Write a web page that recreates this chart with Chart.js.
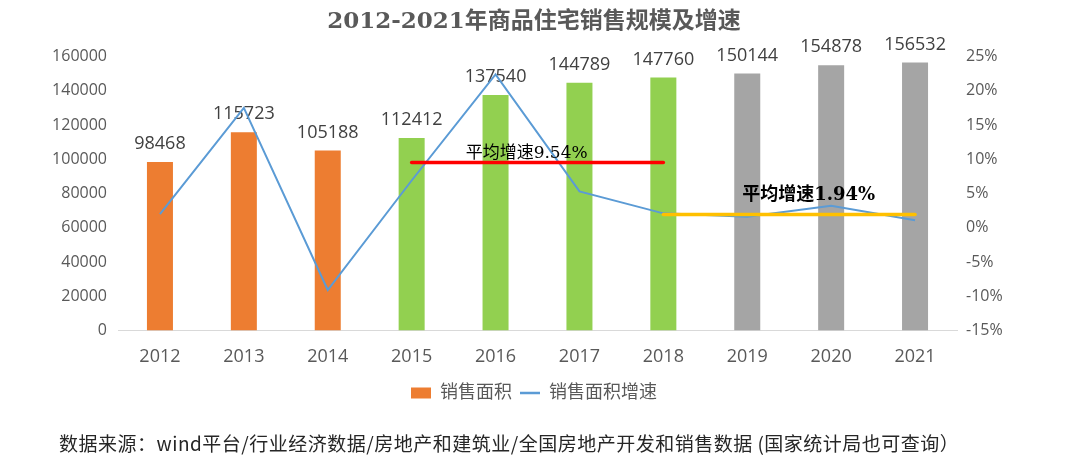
<!DOCTYPE html>
<html>
<head>
<meta charset="utf-8">
<script src="https://cdn.jsdelivr.net/npm/chart.js@4.4.1/dist/chart.umd.min.js"></script>
<style>
    html, body { margin: 0; padding: 0; background: #fff; }
    #wrap { position: relative; width: 1080px; height: 474px; }
    #note {
        position: absolute; left: 59px; top: 430px;
        font: 19px 'Noto Sans CJK SC', sans-serif; color: #262626;
        white-space: nowrap; line-height: 26px; letter-spacing: 0.5px;
    }
</style>
</head>
<body>
<div id="wrap">
    <canvas id="chart-sales"></canvas>
    <div id="note">数据来源：wind平台/行业经济数据/房地产和建筑业/全国房地产开发和销售数据 (国家统计局也可查询）</div>
</div>
<script>
(function () {
    'use strict';

    /* --- Data --- */
    var years     = ['2012', '2013', '2014', '2015', '2016', '2017', '2018', '2019', '2020', '2021'];
    var salesArea = [98468, 115723, 105188, 112412, 137540, 144789, 147760, 150144, 154878, 156532];
    var growth    = [2.0, 17.5, -9.1, 6.9, 22.4, 5.3, 2.1, 1.6, 3.2, 1.1];   // %
    var avgEarly  = [null, null, null, 9.54, 9.54, 9.54, 9.54, null, null, null];
    var avgLate   = [null, null, null, null, null, null, 1.94, 1.94, 1.94, 1.94];
    var avgEarlyText = '平均增速9.54%';
    var avgLateText  = '平均增速1.94%';

    var orange = '#ED7D31';
    var green  = '#92D050';
    var grey   = '#A5A5A5';
    var blue   = '#5B9BD5';
    var txt    = '#595959';

    var barColors = years.map(function (y) {
        var n = +y;
        if (n <= 2014) return orange;
        if (n <= 2018) return green;
        return grey;
    });

    var sansFont  = "'Open Sans', 'Noto Sans CJK SC', sans-serif";
    var serifFont = "'DejaVu Serif', 'Noto Sans CJK SC', serif";

    Chart.defaults.font.family = sansFont;
    Chart.defaults.color = txt;

    /* bar value labels, drawn right after the bars so the line sits on top */
    var barLabels = {
        id: 'barLabels',
        afterDatasetDraw: function (chart, args) {
            if (args.index !== 0) return;
            var ctx = chart.ctx;
            ctx.save();
            ctx.font = '18px ' + sansFont;
            ctx.fillStyle = '#404040';
            ctx.textAlign = 'center';
            ctx.textBaseline = 'middle';
            args.meta.data.forEach(function (bar, i) {
                ctx.fillText(salesArea[i], bar.x, bar.y - 18);
            });
            ctx.restore();
        }
    };

    /* average-growth captions */
    var avgLabels = {
        id: 'avgLabels',
        afterDatasetsDraw: function (chart) {
            var ctx = chart.ctx;
            var x = chart.scales.x, y1 = chart.scales.y1;
            ctx.save();
            ctx.fillStyle = '#000';
            ctx.textAlign = 'left';
            ctx.textBaseline = 'middle';
            ctx.font = '17px ' + serifFont;
            ctx.fillText(avgEarlyText, x.getPixelForValue(3) + 54, y1.getPixelForValue(9.54) - 9);
            ctx.font = 'bold 18px ' + serifFont;
            ctx.fillText(avgLateText, x.getPixelForValue(7) - 5, y1.getPixelForValue(1.94) - 19);
            ctx.restore();
        }
    };

    new Chart(document.getElementById('chart-sales'), {
        type: 'bar',
        data: {
            labels: years,
            datasets: [
                {
                    label: '销售面积',
                    data: salesArea,
                    backgroundColor: barColors,
                    borderWidth: 0,
                    barPercentage: 0.31,
                    categoryPercentage: 1,
                    yAxisID: 'y',
                    order: 3
                },
                {
                    label: '销售面积增速',
                    type: 'line',
                    data: growth,
                    borderColor: blue,
                    backgroundColor: blue,
                    borderWidth: 2,
                    pointRadius: 0,
                    tension: 0,
                    yAxisID: 'y1',
                    order: 1
                },
                {
                    label: 'avgEarly',
                    type: 'line',
                    data: avgEarly,
                    borderColor: '#FF0000',
                    borderWidth: 3.5,
                    borderCapStyle: 'round',
                    pointRadius: 0,
                    yAxisID: 'y1',
                    order: 0
                },
                {
                    label: 'avgLate',
                    type: 'line',
                    data: avgLate,
                    borderColor: '#FFC000',
                    borderWidth: 3.5,
                    borderCapStyle: 'round',
                    pointRadius: 0,
                    yAxisID: 'y1',
                    order: 0
                }
            ]
        },
        options: {
            responsive: true,
            maintainAspectRatio: false,
            animation: false,
            events: [],
            layout: { padding: { left: 0, right: 12, top: 0, bottom: 62 } },
            plugins: {
                title: {
                    display: true,
                    text: '2012-2021年商品住宅销售规模及增速',
                    color: txt,
                    font: { family: serifFont, size: 23, weight: 'bold' },
                    padding: { top: 8, bottom: 21 }
                },
                legend: {
                    position: 'bottom',
                    labels: {
                        color: txt,
                        font: { size: 18 },
                        usePointStyle: true,
                        pointStyleWidth: 20,
                        boxHeight: 11,
                        padding: 8,
                        generateLabels: function (chart) {
                            return [
                                { text: '销售面积', fillStyle: orange, strokeStyle: orange, lineWidth: 0,
                                  pointStyle: 'rect', datasetIndex: 0, fontColor: txt },
                                { text: '销售面积增速', fillStyle: blue, strokeStyle: blue, lineWidth: 2.5,
                                  pointStyle: 'line', datasetIndex: 1, fontColor: txt }
                            ];
                        }
                    }
                },
                tooltip: { enabled: false }
            },
            scales: {
                x: {
                    grid: { display: false },
                    border: { color: '#D9D9D9', width: 1 },
                    ticks: { font: { size: 18 }, padding: 8, color: txt }
                },
                y: {
                    position: 'left',
                    min: 0,
                    max: 160000,
                    grid: { display: false, drawTicks: false },
                    border: { display: false },
                    ticks: {
                        stepSize: 20000,
                        font: { size: 16 },
                        padding: 11,
                        color: txt,
                        callback: function (v) { return String(v); }
                    },
                    afterFit: function (s) { s.width = 118; }
                },
                y1: {
                    position: 'right',
                    min: -15,
                    max: 25,
                    grid: { display: false, drawTicks: false },
                    border: { display: false },
                    ticks: {
                        stepSize: 5,
                        font: { size: 16 },
                        padding: 9,
                        color: txt,
                        callback: function (v) { return v + '%'; }
                    },
                    afterFit: function (s) { s.width = 111; }
                }
            }
        },
        plugins: [barLabels, avgLabels]
    });
})();
</script>
</body>
</html>
